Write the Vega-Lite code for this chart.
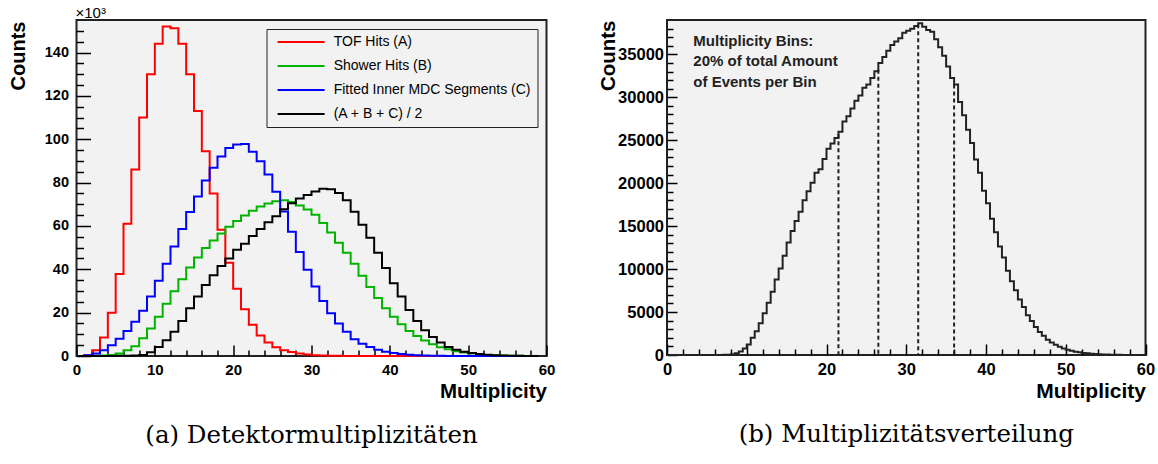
{
  "$schema": "https://vega.github.io/schema/vega-lite/v6.json",
  "background": "white",
  "padding": {"left": 6.5, "top": 5, "right": 0, "bottom": 0},
  "bounds": "flush",
  "spacing": 120.5,
  "datasets": {
    "left": [
      {"x":0,"A":0,"B":0,"C":0,"D":0},
      {"x":1,"A":0.4,"B":0,"C":0.3,"D":0},
      {"x":2,"A":2.6,"B":0.1,"C":1.1,"D":0},
      {"x":3,"A":8.5,"B":0.2,"C":2.6,"D":0},
      {"x":4,"A":20,"B":0.5,"C":5,"D":0.05},
      {"x":5,"A":37.8,"B":1.1,"C":8,"D":0.1},
      {"x":6,"A":61,"B":2.6,"C":11.5,"D":0.15},
      {"x":7,"A":86,"B":4.5,"C":15.8,"D":0.25},
      {"x":8,"A":110,"B":8.2,"C":20.9,"D":0.5},
      {"x":9,"A":130,"B":12.7,"C":27.4,"D":1.7},
      {"x":10,"A":144,"B":18.1,"C":34.7,"D":4.1},
      {"x":11,"A":152,"B":24.1,"C":42.5,"D":7.3},
      {"x":12,"A":151.2,"B":29.9,"C":50.5,"D":11.2},
      {"x":13,"A":144,"B":35.4,"C":58.6,"D":16.2},
      {"x":14,"A":130,"B":40.8,"C":66.4,"D":22},
      {"x":15,"A":113,"B":45.4,"C":73.6,"D":27.4},
      {"x":16,"A":94.5,"B":49.8,"C":81,"D":32.7},
      {"x":17,"A":75,"B":53.3,"C":86.8,"D":37.2},
      {"x":18,"A":58.2,"B":56.5,"C":92,"D":41.5},
      {"x":19,"A":43,"B":59.6,"C":96,"D":45},
      {"x":20,"A":31,"B":62.3,"C":97.6,"D":49},
      {"x":21,"A":21.6,"B":64.8,"C":97.8,"D":51.8},
      {"x":22,"A":14.4,"B":67,"C":94.2,"D":55.3},
      {"x":23,"A":9.5,"B":69,"C":89.8,"D":58.6},
      {"x":24,"A":6.2,"B":70.4,"C":83.7,"D":61.7},
      {"x":25,"A":4,"B":71.4,"C":75.8,"D":64.5},
      {"x":26,"A":2.7,"B":71.8,"C":66.7,"D":67.7},
      {"x":27,"A":1.8,"B":71,"C":57.3,"D":70.5},
      {"x":28,"A":1.1,"B":69.4,"C":48,"D":72.7},
      {"x":29,"A":0.7,"B":67.6,"C":39.8,"D":74.3},
      {"x":30,"A":0.4,"B":65.2,"C":32.1,"D":75.9},
      {"x":31,"A":0.25,"B":61.4,"C":25.4,"D":77.2},
      {"x":32,"A":0.15,"B":57,"C":19.7,"D":76.9},
      {"x":33,"A":0.1,"B":52.2,"C":15,"D":75.2},
      {"x":34,"A":0.05,"B":47.6,"C":11.2,"D":71.8},
      {"x":35,"A":0,"B":42.5,"C":7.7,"D":66.5},
      {"x":36,"A":0,"B":37,"C":5.7,"D":60.6},
      {"x":37,"A":0,"B":31.8,"C":4.2,"D":54.5},
      {"x":38,"A":0,"B":26.7,"C":2.9,"D":47.6},
      {"x":39,"A":0,"B":22,"C":2,"D":40.6},
      {"x":40,"A":0,"B":18.1,"C":1.4,"D":33.6},
      {"x":41,"A":0,"B":14.6,"C":0.9,"D":27.4},
      {"x":42,"A":0,"B":11.5,"C":0.6,"D":21.2},
      {"x":43,"A":0,"B":9.2,"C":0.4,"D":16.1},
      {"x":44,"A":0,"B":7.1,"C":0.25,"D":11.9},
      {"x":45,"A":0,"B":5.4,"C":0.15,"D":8.8},
      {"x":46,"A":0,"B":4,"C":0.1,"D":6.2},
      {"x":47,"A":0,"B":3.1,"C":0.05,"D":4.2},
      {"x":48,"A":0,"B":2.2,"C":0,"D":2.9},
      {"x":49,"A":0,"B":1.6,"C":0,"D":2},
      {"x":50,"A":0,"B":1.1,"C":0,"D":1.4},
      {"x":51,"A":0,"B":0.8,"C":0,"D":0.9},
      {"x":52,"A":0,"B":0.5,"C":0,"D":0.6},
      {"x":53,"A":0,"B":0.35,"C":0,"D":0.4},
      {"x":54,"A":0,"B":0.25,"C":0,"D":0.25},
      {"x":55,"A":0,"B":0.15,"C":0,"D":0.15},
      {"x":56,"A":0,"B":0.1,"C":0,"D":0.1},
      {"x":57,"A":0,"B":0.05,"C":0,"D":0.05},
      {"x":58,"A":0,"B":0,"C":0,"D":0},
      {"x":59,"A":0,"B":0,"C":0,"D":0}
    ],
    "right": [
      {"x":0,"n":0},{"x":0.5,"n":0},{"x":1,"n":0},{"x":1.5,"n":0},{"x":2,"n":0},{"x":2.5,"n":0},
      {"x":3,"n":0},{"x":3.5,"n":0},{"x":4,"n":0},{"x":4.5,"n":0},{"x":5,"n":0},{"x":5.5,"n":0},
      {"x":6,"n":0},{"x":6.5,"n":0},{"x":7,"n":20},{"x":7.5,"n":40},{"x":8,"n":80},{"x":8.5,"n":190},
      {"x":9,"n":420},{"x":9.5,"n":770},{"x":10,"n":1230},{"x":10.5,"n":2000},{"x":11,"n":2770},{"x":11.5,"n":3700},
      {"x":12,"n":4850},{"x":12.5,"n":6080},{"x":13,"n":7350},{"x":13.5,"n":8780},{"x":14,"n":10080},{"x":14.5,"n":11550},
      {"x":15,"n":13090},{"x":15.5,"n":14430},{"x":16,"n":15590},{"x":16.5,"n":16670},{"x":17,"n":18010},{"x":17.5,"n":19050},
      {"x":18,"n":20050},{"x":18.5,"n":21210},{"x":19,"n":21630},{"x":19.5,"n":22830},{"x":20,"n":24020},{"x":20.5,"n":24630},
      {"x":21,"n":25250},{"x":21.5,"n":25980},{"x":22,"n":27170},{"x":22.5,"n":27800},{"x":23,"n":28700},{"x":23.5,"n":29600},
      {"x":24,"n":30200},{"x":24.5,"n":31100},{"x":25,"n":31500},{"x":25.5,"n":32250},{"x":26,"n":33030},{"x":26.5,"n":33990},
      {"x":27,"n":34680},{"x":27.5,"n":35410},{"x":28,"n":36100},{"x":28.5,"n":36490},{"x":29,"n":36880},{"x":29.5,"n":37530},
      {"x":30,"n":37760},{"x":30.5,"n":37990},{"x":31,"n":38300},{"x":31.5,"n":38610},{"x":32,"n":38220},{"x":32.5,"n":37840},
      {"x":33,"n":37640},{"x":33.5,"n":36760},{"x":34,"n":35840},{"x":34.5,"n":34830},{"x":35,"n":33600},{"x":35.5,"n":32250},
      {"x":36,"n":31490},{"x":36.5,"n":29450},{"x":37,"n":27910},{"x":37.5,"n":26210},{"x":38,"n":24670},{"x":38.5,"n":22750},
      {"x":39,"n":21210},{"x":39.5,"n":19110},{"x":40,"n":17660},{"x":40.5,"n":15860},{"x":41,"n":14300},{"x":41.5,"n":12620},
      {"x":42,"n":11350},{"x":42.5,"n":9820},{"x":43,"n":8580},{"x":43.5,"n":7540},{"x":44,"n":6470},{"x":44.5,"n":5580},
      {"x":45,"n":4620},{"x":45.5,"n":3960},{"x":46,"n":3270},{"x":46.5,"n":2690},{"x":47,"n":2230},{"x":47.5,"n":1770},
      {"x":48,"n":1460},{"x":48.5,"n":1190},{"x":49,"n":960},{"x":49.5,"n":770},{"x":50,"n":620},{"x":50.5,"n":500},
      {"x":51,"n":380},{"x":51.5,"n":310},{"x":52,"n":230},{"x":52.5,"n":190},{"x":53,"n":140},{"x":53.5,"n":110},
      {"x":54,"n":80},{"x":54.5,"n":60},{"x":55,"n":45},{"x":55.5,"n":35},{"x":56,"n":25},{"x":56.5,"n":15},
      {"x":57,"n":10},{"x":57.5,"n":5},{"x":58,"n":0},{"x":58.5,"n":0},{"x":59,"n":0},{"x":59.5,"n":0}
    ],
    "cuts": [
      {"x":21.5,"top":25700},
      {"x":26.5,"top":33200},
      {"x":31.5,"top":38500},
      {"x":36,"top":31500}
    ]
  },
  "hconcat": [
    {
      "width": 470,
      "height": 336,
      "title": {"text": "(a) Detektormultiplizitäten", "orient": "bottom", "anchor": "middle", "frame": "group", "font": "DejaVu Serif", "fontSize": 24.5, "fontWeight": "normal", "color": "#000", "offset": 22},
      "layer": [
        {
          "data": {"name": "left"},
          "transform": [{"fold": ["A", "B", "C", "D"], "as": ["s", "n"]}],
          "mark": {"type": "line", "interpolate": "step-after", "strokeWidth": 2},
          "encoding": {
            "x": {"field": "x", "type": "quantitative",
                  "scale": {"domain": [0, 60], "nice": false, "zero": false},
                  "axis": {"orient": "bottom", "values": [0,10,20,30,40,50,60], "offset": -11, "tickSize": 11, "ticks": true, "tickColor": "#000", "tickWidth": 1.5, "tickOpacity": 1, "domain": false, "labelPadding": 6, "labelFontSize": 15, "labelBaseline": "top",
                           "title": "Multiplicity", "titleFontSize": 20.5, "titleAlign": "right", "titleBaseline": "middle", "titleX": 470, "titleY": 46}},
            "y": {"field": "n", "type": "quantitative",
                  "scale": {"domain": [0, 155], "nice": false},
                  "axis": {"orient": "left", "values": [0,20,40,60,80,100,120,140], "offset": -14, "tickSize": 14, "ticks": true, "tickColor": "#000", "tickWidth": 1.5, "tickOpacity": 1, "domain": false, "labelPadding": 8, "labelFontSize": 14.5,
                           "title": "Counts", "titleFontSize": 20, "titleAngle": 270, "titleAlign": "right", "titleBaseline": "middle", "titleX": -72.5, "titleY": 1}},
            "color": {"field": "s", "type": "nominal",
                      "scale": {"domain": ["A", "B", "C", "D"], "range": ["#ff0000", "#00b400", "#0000ff", "#000000"]},
                      "legend": {"orient": "top-right", "offset": 9, "title": null, "fillColor": "#f2f2f2", "strokeColor": "#222",
                                 "padding": 6, "symbolType": "M-6,0H6", "symbolSize": 61.4, "symbolStrokeWidth": 2, "symbolOffset": 21.6,
                                 "labelOffset": 25.6, "labelFont": "Liberation Sans", "labelFontSize": 14, "labelColor": "#000", "labelLimit": 400,
                                 "rowPadding": 10,
                                 "labelExpr": "{'A': 'TOF Hits (A)', 'B': 'Shower Hits (B)', 'C': 'Fitted Inner MDC Segments (C)', 'D': '(A + B + C) / 2'}[datum.label]"}}
          }
        },
        {
          "data": {"values": [{}]},
          "mark": {"type": "text", "text": "×10³", "align": "left", "baseline": "alphabetic", "dy": -2, "dx": -1, "font": "Liberation Sans", "fontSize": 15, "color": "#000"},
          "encoding": {
            "x": {"datum": 0, "type": "quantitative",
                  "axis": {"orient": "bottom", "values": [2,4,6,8,12,14,16,18,22,24,26,28,32,34,36,38,42,44,46,48,52,54,56,58], "offset": -6, "tickSize": 6, "ticks": true, "tickColor": "#000", "tickWidth": 1.5, "tickOpacity": 1, "labels": false, "domain": false, "title": null}},
            "y": {"datum": 155, "type": "quantitative",
                  "axis": {"orient": "left", "values": [5,10,15,25,30,35,45,50,55,65,70,75,85,90,95,105,110,115,125,130,135,145,150], "offset": -7, "tickSize": 7, "ticks": true, "tickColor": "#000", "tickWidth": 1.5, "tickOpacity": 1, "labels": false, "domain": false, "title": null}}
          }
        }
      ],
      "resolve": {"axis": {"x": "independent", "y": "independent"}}
    },
    {
      "width": 478.5,
      "height": 335,
      "title": {"text": "(b) Multiplizitätsverteilung", "orient": "bottom", "anchor": "middle", "frame": "group", "font": "DejaVu Serif", "fontSize": 24.5, "fontWeight": "normal", "color": "#000", "offset": 22},
      "layer": [
        {
          "data": {"name": "right"},
          "mark": {"type": "line", "interpolate": "step-after", "strokeWidth": 2, "color": "#222"},
          "encoding": {
            "x": {"field": "x", "type": "quantitative",
                  "scale": {"domain": [0, 60], "nice": false, "zero": false},
                  "axis": {"orient": "bottom", "values": [0,10,20,30,40,50,60], "offset": -11, "tickSize": 11, "ticks": true, "tickColor": "#000", "tickWidth": 1.5, "tickOpacity": 1, "domain": false, "labelPadding": 6, "labelFontSize": 16.5, "labelBaseline": "top",
                           "title": "Multiplicity", "titleFontSize": 21, "titleAlign": "right", "titleBaseline": "middle", "titleX": 478.5, "titleY": 47}},
            "y": {"field": "n", "type": "quantitative",
                  "scale": {"domain": [0, 39000], "nice": false},
                  "axis": {"orient": "left", "values": [0,5000,10000,15000,20000,25000,30000,35000], "format": "d", "offset": -10, "tickSize": 10, "ticks": true, "tickColor": "#000", "tickWidth": 1.5, "tickOpacity": 1, "domain": false, "labelPadding": 3.5, "labelFontSize": 16.5,
                           "title": "Counts", "titleFontSize": 20.5, "titleAngle": 270, "titleAlign": "right", "titleBaseline": "middle", "titleX": -68.5, "titleY": 0}}
          }
        },
        {
          "data": {"name": "cuts"},
          "mark": {"type": "rule", "strokeDash": [4, 3], "strokeWidth": 2, "color": "#222"},
          "encoding": {
            "x": {"field": "x", "type": "quantitative", "axis": null},
            "y": {"field": "top", "type": "quantitative", "axis": null},
            "y2": {"datum": 0}
          }
        },
        {
          "data": {"values": [{}]},
          "mark": {"type": "text", "text": ["Multiplicity Bins:", "20% of total Amount", "of Events per Bin"], "align": "left", "baseline": "alphabetic", "lineHeight": 20.5, "font": "Liberation Sans", "fontWeight": "bold", "fontSize": 15, "color": "#222"},
          "encoding": {
            "x": {"datum": 3.3, "type": "quantitative",
                  "axis": {"orient": "bottom", "values": [2,4,6,8,12,14,16,18,22,24,26,28,32,34,36,38,42,44,46,48,52,54,56,58], "offset": -6, "tickSize": 6, "ticks": true, "tickColor": "#000", "tickWidth": 1.5, "tickOpacity": 1, "labels": false, "domain": false, "title": null}},
            "y": {"datum": 36000, "type": "quantitative",
                  "axis": {"orient": "left", "values": [1000,2000,3000,4000,6000,7000,8000,9000,11000,12000,13000,14000,16000,17000,18000,19000,21000,22000,23000,24000,26000,27000,28000,29000,31000,32000,33000,34000,36000,37000,38000], "offset": -6, "tickSize": 6, "ticks": true, "tickColor": "#000", "tickWidth": 1.5, "tickOpacity": 1, "labels": false, "domain": false, "title": null}}
          }
        }
      ],
      "resolve": {"axis": {"x": "independent", "y": "independent"}}
    }
  ],
  "resolve": {"scale": {"color": "independent"}},
  "config": {
    "view": {"fill": "#f2f2f2", "stroke": "#222", "strokeWidth": 2},
    "axis": {"grid": false, "zindex": 1, "labelFont": "Liberation Sans", "labelFontWeight": "bold", "labelColor": "#000",
             "titleFont": "Liberation Sans", "titleFontWeight": "bold", "titleColor": "#000",
             "labelOverlap": false, "labelFlush": false}
  }
}
